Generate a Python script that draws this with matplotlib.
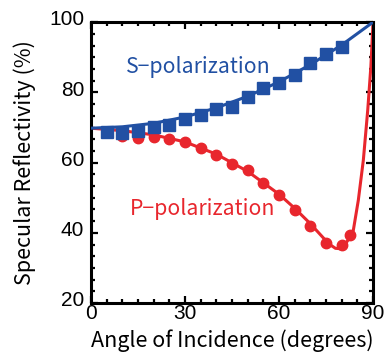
import numpy as np
import matplotlib
matplotlib.use('Agg')
import matplotlib.pyplot as plt
from matplotlib.ticker import MultipleLocator, AutoMinorLocator
from matplotlib.transforms import ScaledTranslation

plt.rcParams['font.family'] = ['Noto Sans CJK JP', 'DejaVu Sans']

# Measured points
angles_s = [5, 10, 15, 20, 25, 30, 35, 40, 45, 50, 55, 60, 65, 70, 75, 80]
refl_s = [68.6, 68.3, 68.9, 70.2, 70.8, 72.3, 73.7, 75.4, 75.9, 78.7,
          81.3, 82.8, 84.9, 88.4, 90.9, 93.0]

angles_p = [5, 10, 15, 20, 25, 30, 35, 40, 45, 50, 55, 60, 65, 70, 75, 80, 82.5]
refl_p = [68.6, 67.6, 67.0, 67.3, 66.6, 65.8, 64.2, 62.2, 59.7, 57.8,
          54.2, 50.9, 46.4, 41.9, 37.1, 36.5, 39.3]

# Fitted curves
fit_s_x = [0, 10, 20, 30, 40, 50, 60, 70, 80, 90]
fit_s_y = [69.8, 70.2, 71.2, 73.0, 75.6, 78.9, 83.0, 87.9, 93.5, 100.0]

fit_p_x = [0, 10, 20, 30, 40, 50, 60, 65, 70, 74, 76, 78, 79.5, 81, 82.5,
           83.7, 85.3, 86.9, 88.3, 89.3, 90]
fit_p_y = [69.8, 69.1, 67.9, 65.9, 62.4, 57.5, 51.0, 47.0, 42.6, 38.7,
           36.8, 35.6, 35.5, 36.6, 38.6, 40.7, 49.3, 60.7, 74.9, 87.3, 100.0]

blue = '#2150a3'
red = '#e8262d'

fig = plt.figure(figsize=(3.89, 3.63), dpi=100)
ax = fig.add_axes([0.234, 0.165, 0.725, 0.774])

ax.plot(fit_p_x, fit_p_y, color=red, lw=2.2, zorder=2)
ax.plot(angles_p, refl_p, 'o', color=red, ms=7.5, zorder=3)
ax.plot(fit_s_x, fit_s_y, color=blue, lw=2.2, zorder=4)
ax.plot(angles_s, refl_s, 's', color=blue, ms=8.2, zorder=5)

ax.text(34.3, 87.3, 'S\u2212polarization', color=blue, fontsize=15.3,
        ha='center', va='center')
ax.text(35.7, 46.9, 'P\u2212polarization', color=red, fontsize=15.3,
        ha='center', va='center')

ax.set_xlim(0, 90)
ax.set_ylim(20, 100)
ax.xaxis.set_major_locator(MultipleLocator(30))
ax.xaxis.set_minor_locator(AutoMinorLocator(6))
ax.yaxis.set_major_locator(MultipleLocator(20))
ax.yaxis.set_minor_locator(AutoMinorLocator(6))
ax.tick_params(which='both', direction='in', top=True, right=True, width=1.6)
ax.tick_params(axis='y', pad=5)
ax.tick_params(axis='x', pad=1)
ax.tick_params(which='major', length=5)
ax.tick_params(which='minor', length=3)
for lab in ax.get_xticklabels() + ax.get_yticklabels():
    lab.set_fontfamily('Liberation Sans')
    lab.set_fontsize(15)
for lab in ax.get_yticklabels():
    lab.set_transform(lab.get_transform() + ScaledTranslation(0, 3 / 72, fig.dpi_scale_trans))
for sp in ax.spines.values():
    sp.set_linewidth(2.2)

ax.set_xlabel('Angle of Incidence (degrees)', fontsize=15.5, labelpad=4)
ax.set_ylabel('Specular Reflectivity (%)', fontsize=15.5, labelpad=9)

fig.savefig('out.png', dpi=100)
